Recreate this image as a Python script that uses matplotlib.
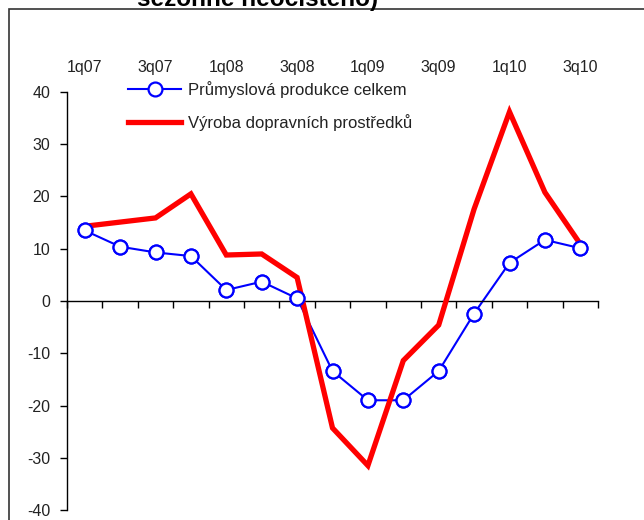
import matplotlib
matplotlib.use('Agg')
import matplotlib.pyplot as plt
import numpy as np
from matplotlib.patches import Rectangle

plt.rcParams['font.family'] = ['Liberation Sans', 'DejaVu Sans']
plt.rcParams['axes.unicode_minus'] = False

quarters = ['1q07', '2q07', '3q07', '4q07', '1q08', '2q08', '3q08', '4q08',
            '1q09', '2q09', '3q09', '4q09', '1q10', '2q10', '3q10']
prumysl = [13.5, 10.4, 9.3, 8.6, 2.1, 3.7, 0.5, -13.4,
           -19.0, -19.0, -13.4, -2.4, 7.3, 11.7, 10.1]
doprava = [14.3, 15.1, 15.9, 20.5, 8.8, 9.0, 4.5, -24.3,
           -31.5, -11.4, -4.6, 17.6, 36.2, 20.8, 10.9]
label_prumysl = 'Průmyslová produkce celkem'
label_doprava = 'Výroba dopravních prostředků'

fig = plt.figure(figsize=(6.44, 5.20), dpi=100)
W, H = 644, 520
ax = fig.add_axes([67 / W, (H - 510) / H, (598 - 67) / W, (510 - 92) / H])

x = np.arange(len(quarters)) + 0.5

ax.plot(x, doprava, color='#ff0000', lw=3.8, zorder=3,
        solid_joinstyle='miter', label=label_doprava)
ax.plot(x, prumysl, color='#0000ff', lw=1.5, zorder=2,
        marker='o', ms=10, mfc='white', mec='#0000ff', mew=1.6,
        label=label_prumysl)
ax.plot(x, prumysl, ls='none', marker='o', ms=10, mfc='white',
        mec='#0000ff', mew=1.6, zorder=4)

ax.set_xlim(0, len(quarters))
ax.set_ylim(-40, 40)
ax.set_yticks(np.arange(-40, 41, 10))
ax.set_xticks(np.arange(0, len(quarters) + 1))
ax.set_xticklabels([])

for s in ['top', 'right']:
    ax.spines[s].set_visible(False)
ax.spines['bottom'].set_position(('data', 0))
ax.spines['bottom'].set_linewidth(1.0)
ax.spines['left'].set_linewidth(1.0)
ax.tick_params(axis='x', direction='out', length=5, width=1.0)
ax.tick_params(axis='y', direction='out', length=5, width=1.0, pad=7,
               labelsize=11.5, labelcolor='#222222')

# quarter labels above the plot
for i in range(0, len(quarters), 2):
    ax.text(x[i], 1.058, quarters[i], transform=ax.get_xaxis_transform(),
            ha='center', va='center', fontsize=11.5, color='#222222')

leg = ax.legend(handles=[ax.lines[1], ax.lines[0]],
                loc='upper left', bbox_to_anchor=(0.115, 1.027),
                frameon=False, fontsize=12, handlelength=3.2,
                handletextpad=0.4, labelspacing=1.0, borderpad=0,
                borderaxespad=0)
for t in leg.get_texts():
    t.set_color('#222222')

# outer frame and cut title
fig.patches.append(Rectangle((9 / W, -0.1), 1.2, (H - 9) / H + 0.1,
                             transform=fig.transFigure, fill=False,
                             edgecolor='#333333', lw=1.2))
fig.text(137 / W, (H - 6) / H, 'sezónně neočištěno)', ha='left',
         va='baseline', fontsize=17.5, fontweight='bold', color='black')

fig.savefig('out.png', dpi=100)
